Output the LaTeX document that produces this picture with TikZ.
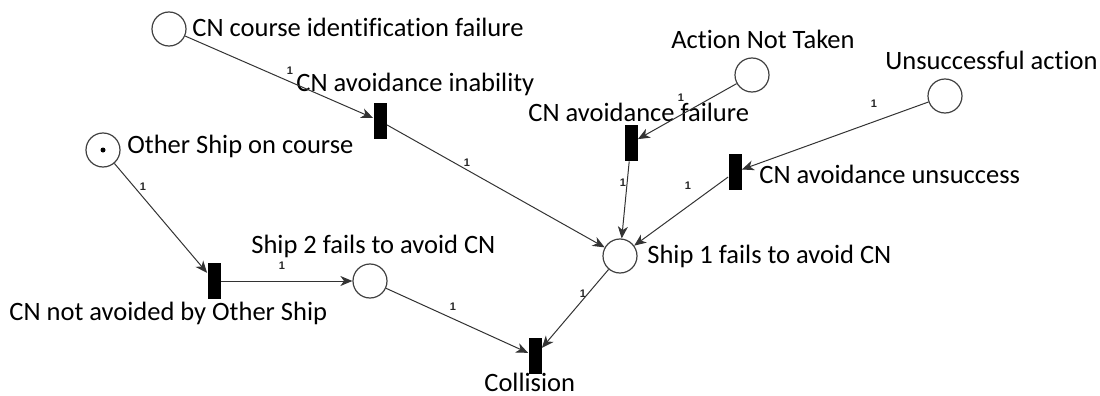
\documentclass[tikz,border=0pt]{standalone}
\usepackage{fontspec}
\setmainfont[Ligatures=NoCommon]{Carlito}
\newfontfamily\weightfont{Liberation Sans}
\usetikzlibrary{positioning,arrows.meta}

\begin{document}
\begin{tikzpicture}[
  font=\fontsize{13.25}{15}\selectfont,
  >={Stealth[length=6pt,width=5pt,inset=1.8pt]},
  place/.style={circle, draw=black!75, line width=0.6pt, minimum size=17pt, inner sep=0pt},
  transition/.style={rectangle, fill=black, minimum width=6.5pt, minimum height=18pt, inner sep=0pt},
  lbl/.style={inner sep=0pt},
  weight/.style={inner sep=0pt, text=black!85, font=\weightfont\bfseries\fontsize{5.5}{5.5}\selectfont},
  every edge/.append style={line width=0.5pt, draw=black!80}
]
\useasboundingbox (0,0) rectangle (550pt,-198pt);

\node[place] (p_course) at (84.5pt,-14.5pt) {};
\node[transition, on grid, below right=46pt and 105.5pt of p_course] (t_inability) {};
\node[place, on grid, below left=60.5pt and 33pt of p_course] (p_other) {};
\node[circle, fill=black, inner sep=0pt, minimum size=2.5pt] (tok_other) at (p_other) {};
\node[transition, on grid, below right=65.5pt and 55.5pt of p_other] (t_notavoided) {};
\node[place, on grid, right=78pt of t_notavoided] (p_ship2) {};
\node[transition, on grid, below right=37.5pt and 82.5pt of p_ship2] (t_collision) {};
\node[place, on grid, above right=50pt and 42.5pt of t_collision] (p_ship1) {};
\node[transition, on grid, above right=56.5pt and 5.5pt of p_ship1] (t_failure) {};
\node[place, on grid, above right=34pt and 60.5pt of t_failure] (p_nottaken) {};
\node[transition, on grid, above right=42pt and 57.5pt of p_ship1] (t_unsucc) {};
\node[place, on grid, above right=38pt and 105pt of t_unsucc] (p_unsucc) {};

\node[lbl, on grid, below right=3.5pt and 11.5pt of p_course, anchor=base west] (l_course) {CN course identification failure};
\node[lbl, on grid, above left=15pt and 42pt of t_inability, anchor=base west] (l_inability) {CN avoidance inability};
\node[lbl, on grid, below right=1.5pt and 12pt of p_other, anchor=base west] (l_other) {Other Ship on course};
\node[lbl, on grid, below left=19.5pt and 102.5pt of t_notavoided, anchor=base west] (l_notavoided) {CN not avoided by Other Ship};
\node[lbl, on grid, above left=14pt and 59.5pt of p_ship2, anchor=base west] (l_ship2) {Ship 2 fails to avoid CN};
\node[lbl, on grid, below left=17.5pt and 25.5pt of t_collision, anchor=base west] (l_collision) {Collision};
\node[lbl, on grid, below right=3.5pt and 13.5pt of p_ship1, anchor=base west] (l_ship1) {Ship 1 fails to avoid CN};
\node[lbl, on grid, above left=11pt and 51.5pt of t_failure, anchor=base west] (l_failure) {CN avoidance failure};
\node[lbl, on grid, above left=13.5pt and 40.5pt of p_nottaken, anchor=base west] (l_nottaken) {Action Not Taken};
\node[lbl, on grid, below right=6pt and 12pt of t_unsucc, anchor=base west] (l_unsucc) {CN avoidance unsuccess};
\node[lbl, on grid, above left=13.5pt and 30pt of p_unsucc, anchor=base west] (l_unsuccaction) {Unsuccessful action};

% arc weights
\node[weight, on grid, below right=21pt and 60.5pt of p_course] (w_1) {1};
\node[weight, on grid, below right=21pt and 43.5pt of t_inability] (w_2) {1};
\node[weight, on grid, below left=11.5pt and 35.5pt of p_nottaken] (w_3) {1};
\node[weight, on grid, below left=4pt and 35.5pt of p_unsucc] (w_4) {1};
\node[weight, on grid, below left=20pt and 4pt of t_failure] (w_5) {1};
\node[weight, on grid, below left=7pt and 23.5pt of t_unsucc] (w_6) {1};
\node[weight, on grid, below right=18.5pt and 20pt of p_other] (w_7) {1};
\node[weight, on grid, above right=7.5pt and 34pt of t_notavoided] (w_8) {1};
\node[weight, on grid, below right=13pt and 41.5pt of p_ship2] (w_9) {1};
\node[weight, on grid, below left=19pt and 18.5pt of p_ship1] (w_10) {1};

\path[->] (p_course) edge (t_inability);
\path[->] (t_inability) edge (p_ship1);
\path[->] (p_nottaken) edge (t_failure);
\path[->] (t_failure) edge (p_ship1);
\path[->] (p_unsucc) edge (t_unsucc);
\path[->] (t_unsucc) edge (p_ship1);
\path[->] (p_other) edge (t_notavoided);
\path[->] (t_notavoided) edge (p_ship2);
\path[->] (p_ship2) edge (t_collision);
\path[->] (p_ship1) edge (t_collision);

\end{tikzpicture}
\end{document}
